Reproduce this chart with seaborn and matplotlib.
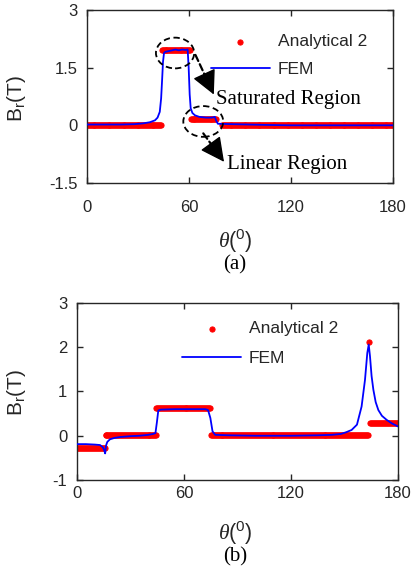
import numpy as np
import pandas as pd
import matplotlib
matplotlib.use("Agg")
import matplotlib.pyplot as plt
from matplotlib.patches import Ellipse
import seaborn as sns

# ---------------- data ----------------
# (a) analytical solution: piecewise-constant segments (start, end, level)
a_seg_start = [0.0, 44.0, 61.0, 79.5]
a_seg_end = [43.5, 60.5, 76.0, 180.0]
a_seg_level = [0.02, 1.97, 0.17, 0.0]

# (a) FEM radial flux density
a_fem_theta = [0, 10, 20, 28, 33, 37, 40, 41.5, 42.8, 43.6, 44.2, 44.7, 45.3, 46, 48, 50,
               52, 54, 56, 58, 59.2, 59.8, 60.4, 61, 62, 63.5, 66, 70, 73.5, 75.2, 76,
               77, 85, 95, 105, 120, 150, 180]
a_fem_val = [0.02, 0.02, 0.02, 0.03, 0.05, 0.08, 0.13, 0.2, 0.35, 0.7, 1.2, 1.65, 1.88,
             1.91, 1.93, 1.95, 1.97, 1.95, 1.97, 1.96, 1.97, 1.5, 0.8, 0.44, 0.32, 0.26,
             0.22, 0.2, 0.2, 0.22, 0.12, 0.04, 0.03, 0.02, 0.01, 0.0, 0.0, 0.0]

# (b) analytical solution segments
b_seg_start = [0.0, 16.0, 44.5, 75.0, 163.6, 164.5]
b_seg_end = [15.5, 44.5, 74.5, 163.0, 163.6, 180.0]
b_seg_level = [-0.28, 0.02, 0.63, 0.01, 2.12, 0.29]

# (b) FEM radial flux density
b_fem_theta = [0, 5, 10, 12.9, 14.5, 15.3, 15.8, 16.3, 17, 18.5, 21, 24, 30, 35, 40, 42.6,
               44, 44.8, 45.6, 47, 55, 65, 72, 73.5, 74.8, 76, 77.5, 85, 100, 120, 135,
               143, 148, 151, 154, 157, 159.6, 161.5, 162.8, 163.6, 164.3, 165.2, 166.2,
               167.5, 169, 171, 173.6, 176.5, 180]
b_fem_val = [-0.19, -0.19, -0.2, -0.21, -0.26, -0.33, -0.4, -0.22, -0.14, -0.08, -0.05,
             -0.03, -0.01, 0.0, 0.02, 0.04, 0.06, 0.3, 0.57, 0.59, 0.6, 0.6, 0.6, 0.58,
             0.4, 0.1, 0.02, 0.01, 0.0, 0.0, 0.01, 0.02, 0.04, 0.08, 0.13, 0.25, 0.66,
             1.26, 1.87, 2.06, 1.8, 1.35, 1.04, 0.76, 0.58, 0.45, 0.36, 0.28, 0.21]

x_ticks = [0, 60, 120, 180]
a_y_ticks = [-1.5, 0, 1.5, 3]
b_y_ticks = [-1, 0, 1, 2, 3]


def segments_to_frame(starts, ends, levels, step=0.55):
    thetas, vals = [], []
    for s, e, v in zip(starts, ends, levels):
        n = max(1, int(round((e - s) / step)) + 1)
        t = np.linspace(s, e, n)
        thetas.extend(t)
        vals.extend([v] * n)
    return pd.DataFrame({"theta": thetas, "Br": vals})


a_ana = segments_to_frame(a_seg_start, a_seg_end, a_seg_level)
b_ana = segments_to_frame(b_seg_start, b_seg_end, b_seg_level)
a_fem = pd.DataFrame({"theta": a_fem_theta, "Br": a_fem_val})
b_fem = pd.DataFrame({"theta": b_fem_theta, "Br": b_fem_val})

# ---------------- style ----------------
sns.set_theme(style="ticks")
plt.rcParams["font.family"] = ["Liberation Sans", "DejaVu Sans"]
plt.rcParams["mathtext.fontset"] = "custom"
plt.rcParams["mathtext.rm"] = "Liberation Sans"
plt.rcParams["mathtext.it"] = "Liberation Serif:italic"
plt.rcParams["axes.linewidth"] = 1.0

fig = plt.figure(figsize=(4.11, 5.82), dpi=100)
ax_a = fig.add_axes([0.2117, 0.6856, 0.7445, 0.2973])
ax_b = fig.add_axes([0.1873, 0.1753, 0.781, 0.3041])

RED = (1, 0, 0)
BLUE = (0, 0, 1)
INK = "#262626"


def draw_panel(ax, ana, fem, yticks, ylim, xpad):
    sns.scatterplot(data=ana, x="theta", y="Br", ax=ax, color=RED, s=14,
                    edgecolor=RED, linewidth=0.7, zorder=2, label="Analytical 2",
                    legend=False)
    sns.lineplot(data=fem, x="theta", y="Br", ax=ax, color=BLUE, linewidth=1.3,
                 zorder=3, label="FEM", legend=False, sort=False)
    ax.set_xlim(0, 180)
    ax.set_ylim(*ylim)
    ax.set_xticks(x_ticks)
    ax.set_xticklabels([str(t) for t in x_ticks])
    ax.set_yticks(yticks)
    ax.set_yticklabels([("%g" % t) for t in yticks])
    ax.set_xlabel("")
    ax.set_ylabel("")
    for s in ax.spines.values():
        s.set_visible(True)
        s.set_color(INK)
        s.set_linewidth(1.0)
    ax.tick_params(direction="in", length=4, width=1.0, top=True, right=True,
                   labelsize=12, colors=INK, labelcolor=INK)
    ax.tick_params(axis="x", pad=xpad)
    ax.tick_params(axis="y", pad=7)


draw_panel(ax_a, a_ana, a_fem, a_y_ticks, (-1.5, 3), 12)
draw_panel(ax_b, b_ana, b_fem, b_y_ticks, (-1, 3), 4)


def add_legend(ax, anchor, spacing):
    handles = [ax.collections[0], ax.lines[0]]
    ax.legend(handles, ["Analytical 2", "FEM"], loc="upper left",
              bbox_to_anchor=anchor, bbox_transform=fig.transFigure, frameon=False,
              fontsize=12.5, handlelength=3.4, handletextpad=0.45, labelspacing=spacing,
              borderpad=0, borderaxespad=0, scatterpoints=1)


add_legend(ax_a, (0.513, 0.941), 0.72)
add_legend(ax_b, (0.443, 0.448), 0.85)

# dashed ellipses and arrows marking the two regions in (a)
for cx, cy, w, h in [(51.8, 1.88, 22.5, 0.8), (68.4, 0.1, 23.5, 0.8)]:
    ax_a.add_patch(Ellipse((cx, cy), w, h, fill=False, edgecolor="black",
                           linestyle=(0, (3.5, 2)), linewidth=1.3, zorder=4))


def dashed_arrow(ax, start, tip, head_frac=0.3):
    # dashed shaft plus a solid filled head at the tip
    back = (tip[0] - head_frac * (tip[0] - start[0]),
            tip[1] - head_frac * (tip[1] - start[1]))
    ax.annotate("", xy=back, xytext=start, zorder=5,
                arrowprops=dict(arrowstyle="-", color="black", linestyle=(0, (3, 1.6)),
                                linewidth=1.6, shrinkA=0, shrinkB=0))
    ax.annotate("", xy=tip, xytext=back, zorder=5,
                arrowprops=dict(arrowstyle="-|>,head_length=0.75,head_width=0.38",
                                color="black", linewidth=1.0, mutation_scale=20,
                                shrinkA=0, shrinkB=0))


dashed_arrow(ax_a, (63.8, 1.83), (74.6, 0.8))
dashed_arrow(ax_a, (68.4, -0.21), (80.6, -0.95))

ax_a.text(75.9, 0.66, "Saturated Region", family="Liberation Serif", fontsize=15,
          ha="left", va="center", color="black")
ax_a.text(82.5, -1.02, "Linear Region", family="Liberation Serif", fontsize=15,
          ha="left", va="center", color="black")

# axis labels and panel captions
for y_lab, y_ylab in [(0.586, 0.831), (0.0845, 0.325)]:
    fig.text(0.572, y_lab, r"$\theta\mathrm{(^{0})}$", fontsize=15.5, ha="center",
             va="center", color=INK)
    fig.text(0.039, y_ylab, r"B$_\mathrm{r}$(T)", fontsize=15, rotation=90,
             ha="center", va="center", color=INK)
fig.text(0.572, 0.5447, "(a)", family="Liberation Serif", fontsize=15,
         ha="center", va="center", color="black")
fig.text(0.572, 0.043, "(b)", family="Liberation Serif", fontsize=15,
         ha="center", va="center", color="black")

fig.savefig("out.png", dpi=100)
